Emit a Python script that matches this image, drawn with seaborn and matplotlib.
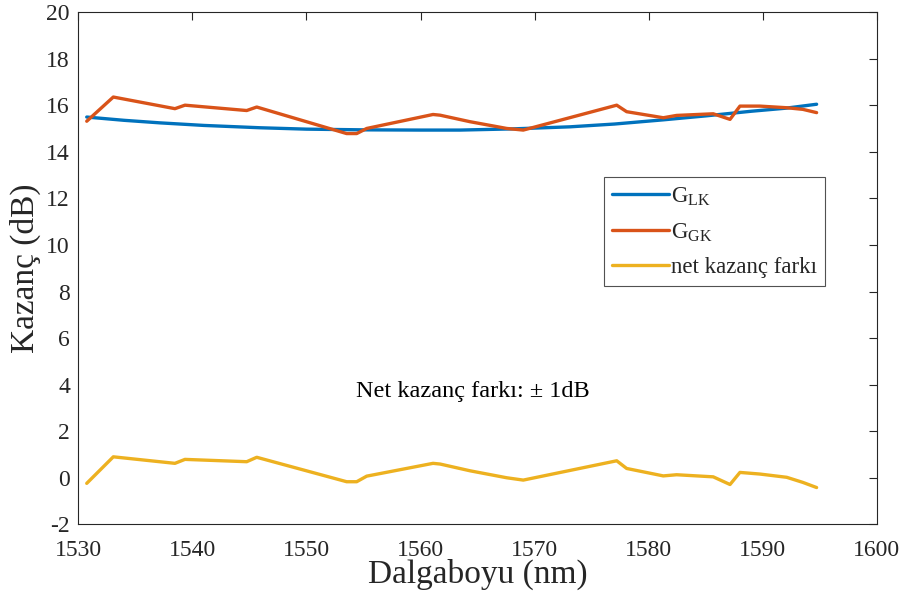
import matplotlib
matplotlib.use("Agg")
import matplotlib.pyplot as plt
import seaborn as sns
import pandas as pd

# G_LK (smooth curve)
wl_lk = [1530.74, 1534, 1537.16, 1541, 1545.92, 1550, 1555, 1560, 1563.45, 1568, 1573.1, 1577, 1581.27, 1585, 1589, 1592, 1594.71]
g_lk = [15.50, 15.36, 15.25, 15.14, 15.04, 14.98, 14.95, 14.94, 14.94, 14.99, 15.08, 15.20, 15.38, 15.55, 15.75, 15.88, 16.05]

# G_GK
wl_gk = [1530.74, 1533.07, 1538.47, 1539.35, 1544.76, 1545.64, 1553.52, 1554.40, 1555.28, 1561.09, 1561.71, 1564.33,
         1567.55, 1569.0, 1577.19, 1578.06, 1581.27, 1582.44, 1585.65, 1587.12, 1587.99, 1589.74, 1592.09, 1593.51, 1594.71]
g_gk = [15.32, 16.36, 15.86, 16.01, 15.78, 15.93, 14.79, 14.79, 15.01, 15.61, 15.58, 15.30,
        15.01, 14.94, 16.01, 15.73, 15.47, 15.57, 15.64, 15.40, 15.97, 15.97, 15.90, 15.83, 15.69]

# net kazanç farkı
wl_net = [1530.74, 1533.07, 1538.47, 1539.35, 1544.76, 1545.64, 1553.52, 1554.40, 1555.28, 1561.09, 1561.71, 1564.33,
          1567.55, 1569.0, 1577.19, 1578.06, 1581.27, 1582.44, 1585.65, 1587.12, 1587.99, 1589.74, 1592.09, 1593.51, 1594.71]
g_net = [-0.24, 0.90, 0.62, 0.79, 0.69, 0.88, -0.17, -0.17, 0.07, 0.62, 0.59, 0.30,
         0.00, -0.10, 0.73, 0.40, 0.08, 0.13, 0.04, -0.29, 0.23, 0.16, 0.02, -0.20, -0.42]

x_ticks = [1530, 1540, 1550, 1560, 1570, 1580, 1590, 1600]
y_ticks = [-2, 0, 2, 4, 6, 8, 10, 12, 14, 16, 18, 20]

sns.set_theme(style="white")
plt.rcParams['font.family'] = ['Liberation Serif', 'DejaVu Serif']
plt.rcParams['mathtext.fontset'] = 'custom'
plt.rcParams['mathtext.rm'] = 'Liberation Serif'
plt.rcParams['mathtext.it'] = 'Liberation Serif:italic'
plt.rcParams['axes.unicode_minus'] = False

fig = plt.figure(figsize=(9.04, 6.01), dpi=100)
ax = fig.add_axes([0.0866, 0.1276, 0.8835, 0.8519])

df_lk = pd.DataFrame({"x": wl_lk, "y": g_lk})
df_gk = pd.DataFrame({"x": wl_gk, "y": g_gk})
df_net = pd.DataFrame({"x": wl_net, "y": g_net})

sns.lineplot(data=df_lk, x="x", y="y", ax=ax, color="#0072BD", lw=2.4, sort=False, label=r"G$_{\mathrm{LK}}$")
sns.lineplot(data=df_gk, x="x", y="y", ax=ax, color="#D95319", lw=2.4, sort=False, label=r"G$_{\mathrm{GK}}$")
sns.lineplot(data=df_net, x="x", y="y", ax=ax, color="#EDB120", lw=2.4, sort=False, label="net kazanç farkı")

ax.set_xlim(1530, 1600)
ax.set_ylim(-2, 20)
ax.set_xticks(x_ticks)
ax.set_yticks(y_ticks)
ax.tick_params(direction="in", length=6, width=0.8, top=True, right=True, labelsize=17, colors="#262626")
ax.tick_params(axis="x", pad=11)
ax.tick_params(axis="y", pad=6)
for s in ax.spines.values():
    s.set_color("#262626")
    s.set_linewidth(0.8)
ax.set_xlabel("Dalgaboyu (nm)", fontsize=24, color="#262626", labelpad=-1)
ax.set_ylabel("Kazanç (dB)", fontsize=24, color="#262626", labelpad=4)

ax.text(1564.6, 3.69, "Net kazanç farkı: ± 1dB", fontsize=17.5, ha="center", va="center", color="black")

leg = ax.legend(loc="upper left", bbox_to_anchor=(0.658, 0.678), fontsize=16.5, frameon=True,
                fancybox=False, edgecolor="#262626", handlelength=2.5, borderpad=0.35,
                labelspacing=0.6, handletextpad=0.1, borderaxespad=0)
leg.get_frame().set_linewidth(0.8)

fig.savefig("out.png", dpi=100)
